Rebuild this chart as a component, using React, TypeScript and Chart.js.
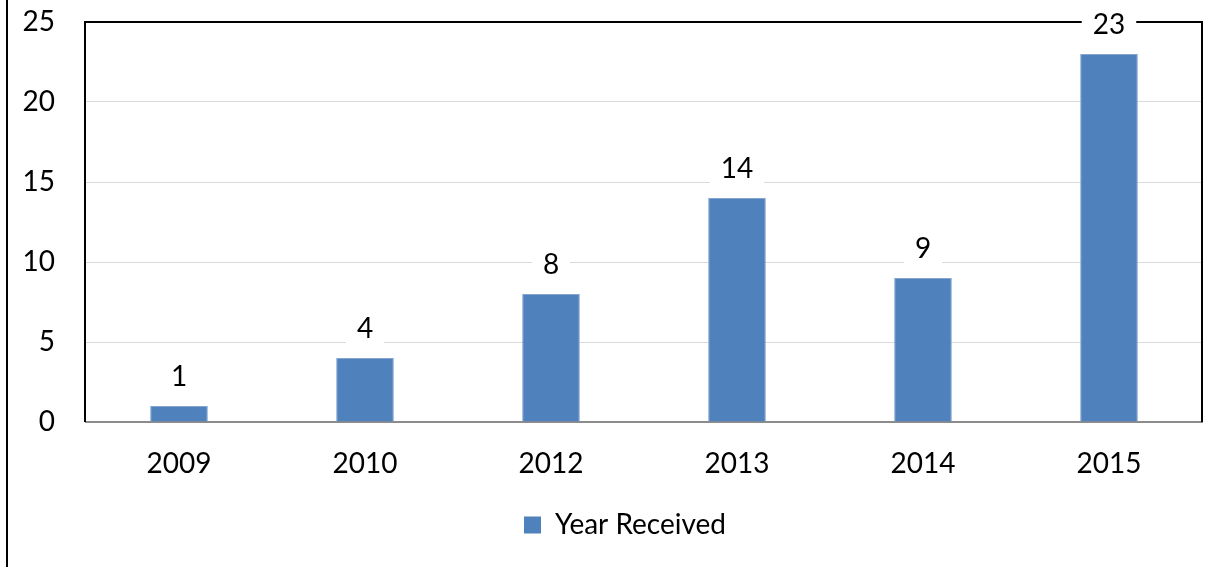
import { useEffect, useRef } from "react";
import { Chart, registerables } from "chart.js";

Chart.register(...registerables);

const categories = ["2009", "2010", "2012", "2013", "2014", "2015"];
const values = [1, 4, 8, 14, 9, 23];
const seriesLabel = "Year Received";
const yMin = 0;
const yMax = 25;
const yStep = 5;

const FONT = "Lato, 'Open Sans', sans-serif";
const BAR_COLOR = "#4F81BD";
const BAR_EDGE = "#86a6d2";

export default function App() {
  const ref = useRef<HTMLCanvasElement>(null);

  useEffect(() => {
    if (!ref.current) return;

    const framePlugin = {
      id: "frame",
      afterLayout(chart: any) {
        // Excel places the legend slightly right of the canvas centre
        if (chart.legend) {
          chart.legend.left += 24;
          chart.legend.right += 24;
        }
      },
      beforeDatasetsDraw(chart: any) {
        const { ctx, chartArea, height } = chart;
        const { left, right, top, bottom } = chartArea;
        ctx.save();
        ctx.strokeStyle = "#000";
        ctx.lineWidth = 2;
        ctx.beginPath();
        ctx.moveTo(7, 0);
        ctx.lineTo(7, height);
        ctx.stroke();
        ctx.beginPath();
        ctx.moveTo(left - 1, bottom);
        ctx.lineTo(left - 1, top);
        ctx.lineTo(right, top);
        ctx.lineTo(right, bottom);
        ctx.stroke();
        ctx.restore();
      },
    };

    const labelPlugin = {
      id: "valueLabels",
      afterDatasetsDraw(chart: any) {
        const { ctx } = chart;
        const meta = chart.getDatasetMeta(0);
        const data = chart.data.datasets[0].data as number[];
        ctx.save();
        ctx.font = `28px ${FONT}`;
        ctx.textAlign = "center";
        ctx.textBaseline = "middle";
        meta.data.forEach((bar: any, i: number) => {
          const text = String(data[i]);
          const w = ctx.measureText(text).width;
          const cx = bar.x;
          const cy = bar.y - 30;
          ctx.fillStyle = "#fff";
          ctx.fillRect(cx - w / 2 - 11, cy - 15, w + 22, 30);
          ctx.fillStyle = "#000";
          ctx.fillText(text, cx, cy + 1);
        });
        ctx.restore();
      },
    };

    const chart = new Chart(ref.current, {
      type: "bar",
      data: {
        labels: categories,
        datasets: [
          {
            label: seriesLabel,
            data: values,
            backgroundColor: BAR_COLOR,
            borderColor: BAR_EDGE,
            borderWidth: 1,
            categoryPercentage: 1,
            barPercentage: 0.31,
          },
        ],
      },
      options: {
        responsive: true,
        maintainAspectRatio: false,
        animation: false,
        devicePixelRatio: 1,
        layout: { padding: { top: 22, left: 0, right: 3, bottom: 18 } },
        scales: {
          x: {
            grid: { display: false, drawTicks: false },
            border: { display: true, color: "#8c8c8c", width: 2 },
            ticks: {
              color: "#000",
              font: { family: FONT, size: 28 },
              padding: 25,
              maxRotation: 0,
            },
            afterFit(scale: any) {
              scale.height = 79;
              scale.paddingLeft = 0;
              scale.paddingRight = 0;
            },
          },
          y: {
            min: yMin,
            max: yMax,
            grid: { color: "#d9d9d9", lineWidth: 1, drawTicks: false },
            border: { display: false },
            ticks: {
              stepSize: yStep,
              color: "#000",
              font: { family: FONT, size: 28 },
              padding: 31,
            },
            afterFit(scale: any) {
              scale.width = 86;
              scale.paddingTop = 0;
              scale.paddingBottom = 0;
            },
          },
        },
        plugins: {
          tooltip: { enabled: false },
          legend: {
            position: "bottom",
            labels: {
              boxWidth: 17,
              boxHeight: 17,
              color: "#000",
              font: { family: FONT, size: 28 },
              padding: 10,
              generateLabels(chart: any) {
                return chart.data.datasets.map((ds: any, i: number) => ({
                  text: ds.label,
                  fillStyle: BAR_COLOR,
                  strokeStyle: BAR_COLOR,
                  lineWidth: 0,
                  fontColor: "#000",
                  hidden: false,
                  datasetIndex: i,
                }));
              },
            },
          },
        },
      },
      plugins: [framePlugin, labelPlugin],
    });

    return () => chart.destroy();
  }, []);

  return (
    <div
      style={{
        position: "fixed",
        left: 0,
        top: 0,
        width: 1205,
        height: 567,
        background: "#fff",
      }}
    >
      <canvas ref={ref} />
    </div>
  );
}
